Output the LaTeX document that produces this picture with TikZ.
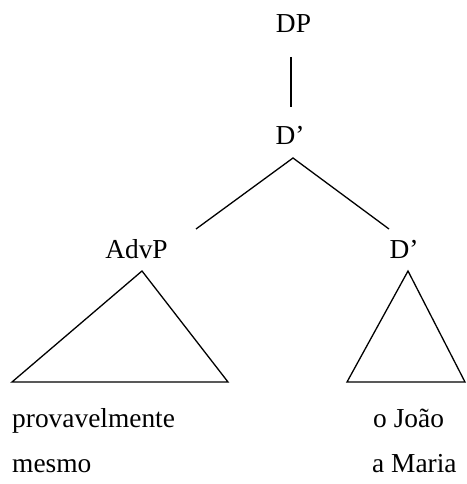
\documentclass[tikz,border=0pt]{standalone}
\usepackage{fontspec}
\setmainfont{Liberation Serif}
\begin{document}
\begin{tikzpicture}[x=1bp,y=-1bp,
  lbl/.style={font=\fontsize{27.5}{33}\selectfont, inner sep=0pt, anchor=base},
  word/.style={font=\fontsize{27.5}{33}\selectfont, inner sep=0pt, anchor=base west},
  edge/.style={line width=1.3bp, line join=miter}]
\useasboundingbox (0,0) rectangle (467,484);
% labels
\node[lbl] (dp) at (293.5,33) {DP};
\node[lbl] (dbar) at (290,145) {D’};
\node[lbl] (advp) at (136.5,258) {AdvP};
\node[lbl] (dbar2) at (404,258) {D’};
\node[word] (w1) at (12,427) {provavelmente};
\node[word] (w2) at (373,427) {o João};
\node[word] (w3) at (12,472) {mesmo};
\node[word] (w4) at (372,472) {a Maria};
% connector ends
\coordinate (dpbot) at (291,57);
\coordinate (dtop) at (291,107);
\coordinate (apex) at (293,158);
\coordinate (lend) at (196,229);
\coordinate (rend) at (389,229);
\coordinate (ta) at (142,271);
\coordinate (tl) at (12,382);
\coordinate (tr) at (228,382);
\coordinate (ua) at (408,271);
\coordinate (ul) at (347,382);
\coordinate (ur) at (465,382);
\draw[edge] (dpbot) -- (dtop);
\draw[edge] (lend) -- (apex) -- (rend);
\draw[edge] (ta) -- (tl) -- (tr) -- cycle;
\draw[edge] (ua) -- (ul) -- (ur) -- cycle;
\end{tikzpicture}
\end{document}
